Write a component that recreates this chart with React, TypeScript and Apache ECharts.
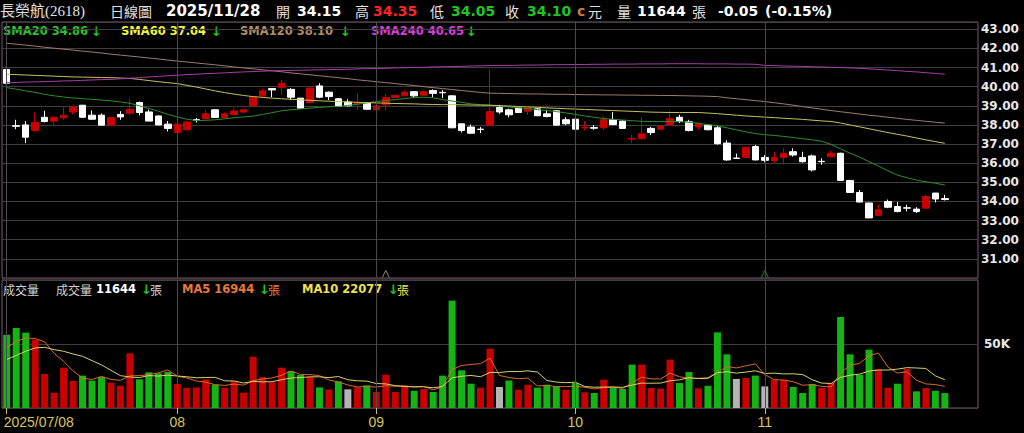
import React, { useEffect, useRef } from 'react';
import * as echarts from 'echarts';

// [open, close, low, high]
const kData: number[][] = [
  [40.90, 40.18, 40.05, 40.95], [37.96, 37.93, 37.78, 38.27], [38.00, 37.36, 37.05, 38.20], [37.71, 38.13, 37.64, 38.65],
  [38.40, 38.18, 38.13, 38.74], [38.20, 38.40, 38.00, 38.45], [38.37, 38.51, 38.27, 38.96], [38.68, 38.91, 38.55, 39.00],
  [39.03, 38.40, 38.37, 39.05], [38.51, 38.30, 38.27, 38.75], [38.51, 37.99, 37.97, 38.60], [37.99, 38.39, 37.98, 38.40],
  [38.55, 38.42, 38.27, 38.72], [38.61, 38.82, 38.50, 39.36], [39.17, 38.65, 38.50, 39.22], [38.68, 38.20, 38.20, 38.80],
  [38.47, 38.00, 37.98, 38.50], [38.04, 37.82, 37.66, 38.20], [37.61, 38.04, 37.36, 38.09], [37.75, 38.15, 37.70, 38.20],
  [38.27, 38.25, 38.13, 38.36], [38.32, 38.58, 38.32, 38.79], [38.79, 38.39, 38.36, 38.82], [38.40, 38.58, 38.36, 38.65],
  [38.54, 38.73, 38.50, 38.90], [38.67, 38.80, 38.60, 38.82], [39.00, 39.45, 39.00, 39.48], [39.52, 39.78, 39.45, 39.90],
  [39.90, 39.83, 39.45, 39.90], [39.95, 40.18, 39.62, 40.35], [39.86, 39.45, 39.30, 39.92], [39.40, 38.87, 38.85, 39.40],
  [39.17, 39.93, 39.14, 39.95], [40.04, 39.45, 39.40, 40.18], [39.71, 39.48, 39.30, 39.75], [39.37, 38.96, 38.94, 39.40],
  [39.20, 39.00, 38.96, 39.34], [39.10, 39.15, 38.80, 39.65], [39.14, 38.82, 38.80, 39.20], [38.79, 39.00, 38.78, 39.02],
  [39.05, 39.43, 38.75, 39.62], [39.43, 39.55, 39.40, 39.57], [39.52, 39.71, 39.50, 39.80], [39.74, 39.52, 39.40, 39.76],
  [39.55, 39.74, 39.52, 39.76], [39.80, 39.65, 39.45, 39.86], [39.70, 39.68, 39.40, 39.83], [39.52, 37.85, 37.83, 39.55],
  [38.06, 37.71, 37.60, 38.06], [37.89, 37.57, 37.54, 38.02], [37.78, 37.76, 37.57, 37.89], [37.99, 38.70, 37.99, 40.90],
  [38.91, 38.68, 38.58, 39.05], [38.79, 38.53, 38.40, 38.85], [38.88, 38.65, 38.62, 38.90], [38.72, 38.86, 38.53, 38.88],
  [38.84, 38.48, 38.46, 38.88], [38.58, 38.44, 38.40, 38.79], [38.74, 37.99, 37.98, 38.76], [38.27, 38.06, 38.00, 38.40],
  [38.30, 37.78, 37.78, 38.32], [37.85, 37.87, 37.71, 38.20], [37.86, 37.83, 37.75, 38.00], [37.85, 38.28, 37.75, 38.44],
  [38.27, 38.02, 37.99, 38.67], [38.20, 37.82, 37.80, 38.24], [37.26, 37.30, 37.05, 37.50], [37.28, 37.54, 37.23, 38.40],
  [37.82, 37.60, 37.47, 37.90], [37.78, 37.92, 37.75, 37.97], [38.00, 38.34, 37.95, 38.75], [38.40, 38.18, 38.10, 38.53],
  [38.16, 37.71, 37.66, 38.27], [37.89, 38.09, 37.75, 38.10], [37.99, 37.75, 37.72, 38.00], [37.85, 37.02, 36.97, 37.95],
  [37.05, 36.17, 36.12, 37.20], [36.27, 36.25, 36.24, 36.50], [36.30, 36.83, 36.30, 36.88], [36.87, 36.17, 36.15, 36.95],
  [36.30, 36.15, 36.05, 36.43], [36.14, 36.30, 36.03, 36.60], [36.30, 36.52, 35.92, 36.78], [36.60, 36.43, 36.35, 36.78],
  [36.30, 36.08, 36.03, 36.60], [36.38, 35.65, 35.57, 36.45], [36.10, 36.08, 35.92, 36.26], [36.34, 36.52, 36.30, 36.65],
  [36.52, 35.10, 35.08, 36.55], [35.10, 34.47, 34.45, 35.12], [34.47, 33.97, 33.96, 34.60], [33.92, 33.14, 33.13, 33.93],
  [33.27, 33.57, 33.27, 33.83], [34.00, 33.70, 33.65, 34.10], [33.74, 33.48, 33.43, 33.97], [33.67, 33.65, 33.48, 33.83],
  [33.60, 33.47, 33.40, 33.70], [33.65, 34.26, 33.65, 34.35], [34.44, 34.13, 33.95, 34.44], [34.15, 34.10, 34.05, 34.35],
];

const sma20 = [
  39.95, 39.87, 39.78, 39.70, 39.60, 39.52, 39.46, 39.41, 39.37, 39.34, 39.30, 39.26, 39.20, 39.13, 39.00, 38.86, 38.72, 38.55, 38.42, 38.30,
  38.23, 38.24, 38.27, 38.32, 38.38, 38.42, 38.46, 38.55, 38.64, 38.74, 38.79, 38.84, 38.88, 38.92, 38.95, 38.97, 39.02, 39.08, 39.15, 39.22,
  39.28, 39.32, 39.38, 39.43, 39.45, 39.42, 39.32, 39.25, 39.18, 39.10, 39.06, 39.03, 38.98, 38.94, 38.90, 38.85, 38.80, 38.75, 38.70, 38.63,
  38.55, 38.47, 38.40, 38.34, 38.29, 38.26, 38.22, 38.19, 38.18, 38.17, 38.18, 38.17, 38.14, 38.08, 38.02, 37.95, 37.85, 37.74, 37.64, 37.55,
  37.49, 37.45, 37.40, 37.34, 37.28, 37.22, 37.15, 36.98, 36.75, 36.52, 36.32, 36.08, 35.85, 35.60, 35.38, 35.24, 35.12, 35.03, 34.95, 34.86,
];
const sma60 = [
  40.65, 40.63, 40.61, 40.59, 40.57, 40.55, 40.53, 40.51, 40.50, 40.49, 40.48, 40.47, 40.45, 40.43, 40.38, 40.32, 40.26, 40.21, 40.16, 40.07,
  39.98, 39.88, 39.78, 39.69, 39.61, 39.54, 39.48, 39.44, 39.40, 39.37, 39.34, 39.31, 39.29, 39.26, 39.24, 39.22, 39.20, 39.18, 39.17, 39.15,
  39.14, 39.12, 39.11, 39.10, 39.08, 39.07, 39.06, 39.06, 39.05, 39.04, 39.03, 39.03, 39.01, 38.99, 38.96, 38.94, 38.92, 38.89, 38.87, 38.85,
  38.83, 38.81, 38.79, 38.77, 38.75, 38.73, 38.71, 38.69, 38.67, 38.66, 38.65, 38.65, 38.65, 38.65, 38.62, 38.59, 38.55, 38.51, 38.47, 38.44,
  38.41, 38.38, 38.35, 38.32, 38.29, 38.25, 38.21, 38.18, 38.10, 38.00, 37.90, 37.80, 37.70, 37.60, 37.51, 37.42, 37.32, 37.22, 37.13, 37.04,
];
const sma120 = [
  42.27, 42.22, 42.17, 42.12, 42.06, 42.01, 41.96, 41.91, 41.86, 41.81, 41.76, 41.70, 41.65, 41.60, 41.55, 41.50, 41.45, 41.39, 41.34, 41.29,
  41.24, 41.19, 41.14, 41.09, 41.03, 40.98, 40.93, 40.88, 40.83, 40.78, 40.72, 40.67, 40.62, 40.57, 40.52, 40.47, 40.42, 40.36, 40.31, 40.26,
  40.21, 40.16, 40.11, 40.06, 40.00, 39.95, 39.90, 39.85, 39.80, 39.75, 39.70, 39.66, 39.65, 39.64, 39.63, 39.62, 39.62, 39.61, 39.60, 39.60,
  39.59, 39.58, 39.58, 39.57, 39.57, 39.56, 39.56, 39.55, 39.55, 39.54, 39.54, 39.53, 39.52, 39.51, 39.50, 39.48, 39.42, 39.37, 39.32, 39.27,
  39.22, 39.16, 39.10, 39.03, 38.96, 38.89, 38.82, 38.75, 38.69, 38.63, 38.57, 38.51, 38.46, 38.40, 38.35, 38.29, 38.24, 38.19, 38.14, 38.10,
];
const sma240 = [
  40.21, 40.22, 40.24, 40.25, 40.27, 40.28, 40.30, 40.31, 40.33, 40.35, 40.37, 40.38, 40.41, 40.44, 40.47, 40.51, 40.54, 40.57, 40.60, 40.63,
  40.65, 40.68, 40.70, 40.72, 40.75, 40.77, 40.79, 40.81, 40.83, 40.84, 40.85, 40.86, 40.87, 40.88, 40.89, 40.90, 40.91, 40.93, 40.94, 40.95,
  40.96, 40.98, 40.99, 41.00, 41.01, 41.03, 41.04, 41.05, 41.06, 41.08, 41.09, 41.10, 41.11, 41.11, 41.12, 41.13, 41.13, 41.14, 41.15, 41.15,
  41.16, 41.16, 41.17, 41.17, 41.18, 41.18, 41.18, 41.19, 41.19, 41.19, 41.20, 41.20, 41.20, 41.20, 41.19, 41.19, 41.19, 41.18, 41.18, 41.17,
  41.11, 41.10, 41.08, 41.07, 41.06, 41.04, 41.03, 41.01, 41.00, 40.98, 40.96, 40.93, 40.90, 40.87, 40.84, 40.80, 40.77, 40.73, 40.69, 40.65,
];

const volumes = [
  57300, 62500, 58900, 53400, 26600, 12000, 31500, 21100, 25300, 21400,
  24200, 19800, 17400, 42700, 22400, 27900, 27100, 28100, 18800, 15600,
  16100, 22400, 18200, 15900, 20800, 12000, 40100, 24200, 20100, 31500,
  28900, 25800, 24200, 16100, 14500, 20800, 14600, 16100, 17700, 12500,
  26000, 12500, 17400, 13500, 14800, 12500, 25300, 83900, 29400, 19000,
  15900, 46400, 16400, 21400, 14300, 18200, 15900, 18200, 16900, 14300,
  19500, 12200, 11700, 22100, 15600, 14800, 33900, 33900, 15600, 15200,
  37800, 19500, 28100, 15400, 17400, 59100, 41900, 22700, 23400, 25300,
  16900, 22100, 21900, 16400, 11700, 18800, 15600, 19500, 71100, 41900,
  26000, 45600, 30200, 15900, 19000, 30500, 13000, 15600, 13500, 11644,
];
// 1 = up (red), -1 = down (green), 0 = unchanged (gray)
const volDir = [
  -1, -1, -1, 1, 1, 1, 1, 1, -1, -1,
  -1, 1, 1, 1, -1, -1, -1, -1, 1, 1,
  1, 1, -1, 1, 1, 1, 1, 1, 1, 1,
  -1, -1, 1, -1, 1, -1, 0, 1, -1, 1,
  1, 1, 1, -1, 1, -1, -1, -1, -1, -1,
  1, 1, 0, -1, 1, 1, -1, -1, -1, 1,
  -1, 1, -1, 1, -1, -1, -1, 1, 1, 1,
  1, -1, -1, 1, -1, -1, -1, 0, 1, -1,
  0, 1, 1, -1, -1, -1, 1, 1, -1, -1,
  -1, -1, 1, 1, -1, 1, -1, 1, -1, -1,
];
// moving-average values at the start of the window (in thousands)
const volMA5Head = [46.9, 52.0, 54.7, 54.2];
const volMA10Head = [37.8, 41.1, 44.3, 46.9, 47.4, 45.6, 44.3, 42.2, 40.4];

const tickIdx = [0, 18, 39, 60, 80];
const tickLabels = ['2025/07/08', '08', '09', '10', '11'];
const markerIdx = [40, 80];
const markerColors = ['#c8b070', '#2fb52f'];

const N_SLOTS = 103;
const categories = Array.from({ length: N_SLOTS }, (_, i) => String(i));

const movingAvg = (n: number, head: number[]) =>
  volumes.map((_, i) => {
    if (i < n - 1) return head[i] * 1000;
    let s = 0;
    for (let k = i - n + 1; k <= i; k++) s += volumes[k];
    return s / n;
  });

const UP = '#c80000';
const DOWN = '#ffffff';
const VOL_COLORS: Record<string, string> = { '1': '#c80000', '-1': '#14b414', '0': '#b4b4b4' };
const GRID_LINE = '#3e3e3e';
const BORDER = '#7e5474';

const NUM = "bold 14px 'DejaVu Sans'";
const DATE = "bold 15px 'DejaVu Sans'";
const CJK = "14px 'Noto Sans CJK TC'";
const SNUM = "bold 11.5px 'DejaVu Sans'";
const SCJK = "12px 'Noto Sans CJK TC'";
const ARROW = "bold 13px 'DejaVu Sans'";

type Part = { x: number; text: string; fill: string; font: string };
const header: Part[] = [
  { x: 0, text: '長榮航(2618)', fill: '#e0e0e0', font: "15px 'Liberation Serif', 'Noto Sans CJK TC', serif" },
  { x: 110, text: '日線圖', fill: '#e0e0e0', font: CJK },
  { x: 166, text: '2025/11/28', fill: '#ffffff', font: DATE },
  { x: 276, text: '開', fill: '#e0e0e0', font: CJK },
  { x: 297, text: '34.15', fill: '#ffffff', font: NUM },
  { x: 355, text: '高', fill: '#e0e0e0', font: CJK },
  { x: 373, text: '34.35', fill: '#ff2424', font: NUM },
  { x: 430, text: '低', fill: '#e0e0e0', font: CJK },
  { x: 451, text: '34.05', fill: '#22c422', font: NUM },
  { x: 505, text: '收', fill: '#e0e0e0', font: CJK },
  { x: 527, text: '34.10', fill: '#22c422', font: NUM },
  { x: 577, text: 'c', fill: '#c47c44', font: NUM },
  { x: 588, text: '元', fill: '#e0e0e0', font: CJK },
  { x: 617, text: '量', fill: '#e0e0e0', font: CJK },
  { x: 637, text: '11644', fill: '#ffffff', font: NUM },
  { x: 692, text: '張', fill: '#e0e0e0', font: CJK },
  { x: 718, text: '-0.05', fill: '#ffffff', font: NUM },
  { x: 765, text: '(-0.15%)', fill: '#ffffff', font: NUM },
];
const priceLegend: Part[] = [
  { x: 3, text: 'SMA20 34.86', fill: '#2cc22c', font: SNUM },
  { x: 91, text: '↓', fill: '#22c422', font: ARROW },
  { x: 121, text: 'SMA60 37.04', fill: '#f4f43c', font: SNUM },
  { x: 211, text: '↓', fill: '#22c422', font: ARROW },
  { x: 240, text: 'SMA120 38.10', fill: '#b48c68', font: SNUM },
  { x: 340, text: '↓', fill: '#22c422', font: ARROW },
  { x: 371, text: 'SMA240 40.65', fill: '#dc3cdc', font: SNUM },
  { x: 466, text: '↓', fill: '#22c422', font: ARROW },
];
const volLegend: Part[] = [
  { x: 3, text: '成交量', fill: '#d4d4d4', font: SCJK },
  { x: 56, text: '成交量', fill: '#d4d4d4', font: SCJK },
  { x: 96, text: '11644', fill: '#ffffff', font: SNUM },
  { x: 141, text: '↓', fill: '#22c422', font: ARROW },
  { x: 150, text: '張', fill: '#d4d4d4', font: SCJK },
  { x: 182, text: 'MA5 16944', fill: '#e8783c', font: SNUM },
  { x: 259, text: '↓', fill: '#22c422', font: ARROW },
  { x: 268, text: '張', fill: '#e8783c', font: SCJK },
  { x: 302, text: 'MA10 22077', fill: '#f0e050', font: SNUM },
  { x: 388, text: '↓', fill: '#22c422', font: ARROW },
  { x: 397, text: '張', fill: '#f0e050', font: SCJK },
];

const toText = (parts: Part[], y: number) =>
  parts.map((p) => ({
    type: 'text',
    x: p.x,
    y,
    silent: true,
    style: {
      text: p.text,
      fill: p.fill,
      font: p.font,
      textAlign: 'left',
      textVerticalAlign: 'middle',
      align: 'left',
      verticalAlign: 'middle',
    },
  }));

const monthLines = (color: string) => ({
  silent: true,
  symbol: ['none', 'none'],
  label: { show: false },
  lineStyle: { color, width: 1, type: 'solid' },
  data: tickIdx.map((i) => ({ xAxis: i })),
});

const lineSeries = (data: number[], color: string, xi: number, yi: number) => ({
  type: 'line',
  xAxisIndex: xi,
  yAxisIndex: yi,
  data,
  showSymbol: false,
  symbol: 'none',
  silent: true,
  lineStyle: { color, width: 1 },
  z: 3,
});

export default function App() {
  const ref = useRef<HTMLDivElement>(null);
  useEffect(() => {
    document.body.style.margin = '0';
    document.body.style.background = '#000';
    const chart = echarts.init(ref.current!, null, { renderer: 'svg' });
    const ma5 = movingAvg(5, volMA5Head);
    const ma10 = movingAvg(10, volMA10Head);
    const option: any = {
      animation: false,
      backgroundColor: '#000000',
      grid: [
        { left: 2, right: 46, top: 22, height: 256, show: true, borderColor: BORDER, borderWidth: 1, backgroundColor: '#000' },
        { left: 2, right: 46, top: 280, height: 128, show: true, borderColor: BORDER, borderWidth: 1, backgroundColor: '#000' },
      ],
      xAxis: [
        {
          type: 'category', gridIndex: 0, data: categories, boundaryGap: true,
          axisLine: { show: false }, axisTick: { show: false }, axisLabel: { show: false }, splitLine: { show: false },
        },
        {
          type: 'category', gridIndex: 1, data: categories, boundaryGap: true,
          axisLine: { show: false },
          splitLine: { show: false },
          axisTick: {
            show: true, alignWithLabel: true, length: 6,
            interval: (i: number) => tickIdx.includes(i),
            lineStyle: { color: '#d8c060' },
          },
          axisLabel: {
            interval: (i: number) => tickIdx.includes(i),
            color: '#d8c462',
            fontSize: 14,
            fontFamily: "'Liberation Sans', Arial, sans-serif",
            margin: 7,
            formatter: (_v: string, i: number) => {
              const k = tickIdx.indexOf(i);
              if (k < 0) return '';
              return k === 0 ? `{first|${tickLabels[k]}}` : tickLabels[k];
            },
            rich: {
              first: {
                color: '#d8c462', fontSize: 14, fontFamily: "'Liberation Sans', Arial, sans-serif",
                padding: [0, 0, 0, 64],
              },
            },
          },
        },
      ],
      yAxis: [
        {
          type: 'value', gridIndex: 0, position: 'right', min: 30, max: 43.38, interval: 1,
          axisLine: { show: false }, axisTick: { show: false },
          splitLine: { show: true, lineStyle: { color: GRID_LINE, width: 1 } },
          axisLabel: {
            color: '#e8e8e8', fontFamily: 'DejaVu Sans', fontWeight: 'bold', fontSize: 12, margin: 3,
            formatter: (v: number) => (v >= 31 && v <= 43 && Math.abs(v - Math.round(v)) < 1e-6 ? v.toFixed(2) : ''),
          },
        },
        {
          type: 'value', gridIndex: 1, position: 'right', min: 0, max: 100000, interval: 50000,
          axisLine: { show: false }, axisTick: { show: false },
          splitLine: { show: true, lineStyle: { color: GRID_LINE, width: 1 } },
          axisLabel: {
            color: '#e8e8e8', fontFamily: 'DejaVu Sans', fontWeight: 'bold', fontSize: 12, margin: 6,
            formatter: (v: number) => (v === 50000 ? '50K' : ''),
          },
        },
      ],
      series: [
        {
          type: 'candlestick',
          xAxisIndex: 0, yAxisIndex: 0,
          data: kData,
          barWidth: 7,
          silent: true,
          itemStyle: { color: UP, color0: DOWN, borderColor: UP, borderColor0: DOWN, borderWidth: 1 },
          markLine: monthLines('#4a4a4a'),
          z: 2,
        },
        lineSeries(sma20, '#2a8e2a', 0, 0),
        lineSeries(sma60, '#c8c060', 0, 0),
        lineSeries(sma120, '#9c7c6c', 0, 0),
        lineSeries(sma240, '#a83ca8', 0, 0),
        {
          type: 'scatter',
          xAxisIndex: 0, yAxisIndex: 0,
          silent: true,
          symbol: 'path://M0,10L5,0L10,10',
          symbolSize: [7, 7],
          data: markerIdx.map((i, k) => ({
            value: [i, 30.21],
            itemStyle: { color: 'transparent', borderColor: markerColors[k], borderWidth: 1 },
          })),
          z: 4,
        },
        {
          type: 'bar',
          xAxisIndex: 1, yAxisIndex: 1,
          barWidth: 7,
          silent: true,
          data: volumes.map((v, i) => ({ value: v, itemStyle: { color: VOL_COLORS[String(volDir[i])] } })),
          markLine: monthLines('#4a4a4a'),
          z: 2,
        },
        lineSeries(ma5, '#d8682c', 1, 1),
        lineSeries(ma10, '#d8d070', 1, 1),
      ],
      graphic: [
        ...toText(header, 11),
        ...toText(priceLegend, 31),
        ...toText(volLegend, 289),
      ],
    };
    chart.setOption(option);
    return () => chart.dispose();
  }, []);
  return <div ref={ref} style={{ width: 1024, height: 433, background: '#000' }} />;
}
